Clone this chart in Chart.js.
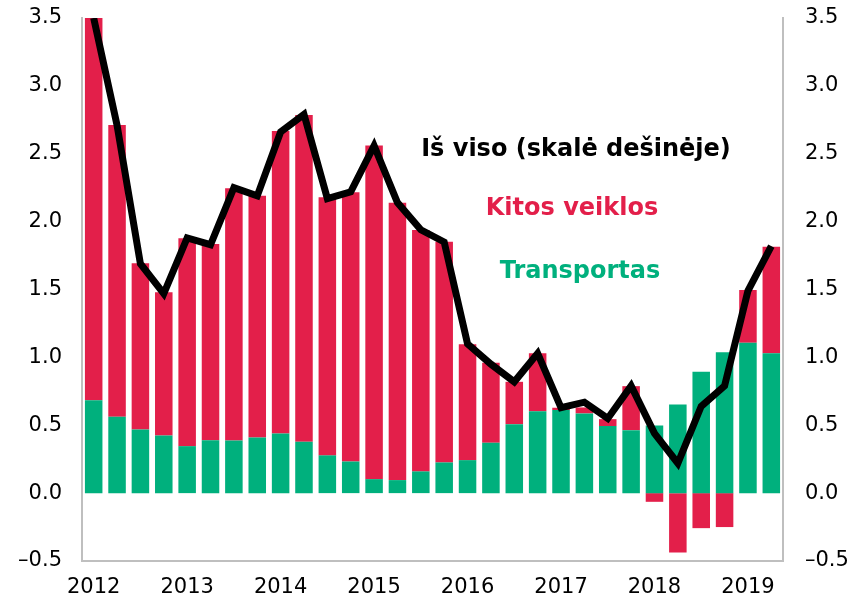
<!DOCTYPE html>
<html>
<head>
<meta charset="utf-8">
<script src="https://cdn.jsdelivr.net/npm/chart.js@4"></script>
<style>
  html, body { margin: 0; padding: 0; background: #fff; }
  #wrap { width: 853px; height: 599px; }
</style>
</head>
<body>
<div id="wrap"><canvas id="chart" width="853" height="599"></canvas></div>
<script>
// quarters 2012 Q1 .. 2019 Q2, year label on each Q1
const quarters = [
    '2012', '', '', '', '2013', '', '', '', '2014', '', '', '', '2015', '', '', '',
    '2016', '', '', '', '2017', '', '', '', '2018', '', '', '', '2019', ''
];
const transportas = [
    0.685, 0.562, 0.469, 0.425, 0.346, 0.390, 0.388, 0.410, 0.440, 0.378,
    0.278, 0.233, 0.103, 0.096, 0.160, 0.226, 0.243, 0.371, 0.508, 0.604,
    0.612, 0.587, 0.494, 0.464, 0.499, 0.653, 0.894, 1.037, 1.108, 1.030
];
const kitosVeiklos = [
    2.815, 2.150, 1.224, 1.054, 1.531, 1.445, 1.857, 1.780, 2.228, 2.408,
    1.901, 1.983, 2.457, 2.043, 1.778, 1.626, 0.853, 0.589, 0.312, 0.426,
    0.017, 0.044, 0.051, 0.324, -0.064, -0.437, -0.258, -0.250, 0.388, 0.785
];
const isViso = [
    3.50, 2.71, 1.69, 1.47, 1.88, 1.83, 2.25, 2.19, 2.66, 2.79,
    2.17, 2.22, 2.56, 2.14, 1.94, 1.85, 1.10, 0.95, 0.82, 1.03,
    0.63, 0.67, 0.55, 0.79, 0.44, 0.22, 0.64, 0.79, 1.49, 1.82
];

const RED = '#e31f4a';
const GREEN = '#00b07d';
const AXIS = '#bfbfbf';
const FONT = 'DejaVu Sans, Verdana, sans-serif';

function fmt(v) {
    return (v < 0 ? '\u2013' : '') + Math.abs(v).toFixed(1);
}

// fixed sizes for the value axes, no extra room for the end labels
function fitY(width) {
    return (scale) => {
        scale.width = width;
        scale.paddingTop = 0;
        scale.paddingBottom = 0;
    };
}

// series names written inside the plot instead of a legend box
const seriesLabels = {
    id: 'seriesLabels',
    afterDatasetsDraw(chart) {
        const ctx = chart.ctx;
        ctx.save();
        ctx.font = 'bold 24px ' + FONT;
        ctx.textAlign = 'center';
        ctx.textBaseline = 'alphabetic';
        ctx.fillStyle = '#000';
        ctx.fillText('Iš viso (skalė dešinėje)', 576, 156);
        ctx.fillStyle = RED;
        ctx.fillText('Kitos veiklos', 572, 215);
        ctx.fillStyle = GREEN;
        ctx.fillText('Transportas', 580, 278);
        ctx.restore();
    }
};

const ctx = document.getElementById('chart').getContext('2d');
new Chart(ctx, {
    data: {
        labels: quarters,
        datasets: [
            {
                type: 'line',
                label: 'Iš viso (skalė dešinėje)',
                data: isViso,
                yAxisID: 'y2',
                borderColor: '#000',
                borderWidth: 7,
                pointRadius: 0,
                tension: 0,
                order: 0
            },
            {
                type: 'bar',
                label: 'Transportas',
                data: transportas,
                backgroundColor: GREEN,
                stack: 's',
                order: 1
            },
            {
                type: 'bar',
                label: 'Kitos veiklos',
                data: kitosVeiklos,
                backgroundColor: RED,
                stack: 's',
                order: 1
            }
        ]
    },
    options: {
        responsive: false,
        animation: false,
        layout: { padding: { top: 18, left: 0, right: 0, bottom: 0 } },
        datasets: {
            bar: { barPercentage: 0.75, categoryPercentage: 1.0 }
        },
        plugins: {
            legend: { display: false },
            tooltip: { enabled: false }
        },
        scales: {
            x: {
                stacked: true,
                grid: { display: false, drawTicks: false },
                border: { display: true, color: AXIS, width: 2 },
                ticks: {
                    autoSkip: false,
                    maxRotation: 0,
                    padding: 14,
                    color: '#000',
                    font: { family: FONT, size: 21 }
                },
                afterFit(scale) {
                    scale.height = 38;
                    scale.paddingLeft = 0;
                    scale.paddingRight = 0;
                }
            },
            y: {
                stacked: true,
                position: 'left',
                min: -0.5,
                max: 3.5,
                grid: { display: false, drawTicks: false },
                border: { display: true, color: AXIS, width: 2 },
                ticks: {
                    stepSize: 0.5,
                    padding: 20,
                    color: '#000',
                    font: { family: FONT, size: 21 },
                    callback: fmt
                },
                afterFit: fitY(82)
            },
            y2: {
                position: 'right',
                min: -0.5,
                max: 3.5,
                grid: { display: false, drawTicks: false },
                border: { display: true, color: AXIS, width: 2 },
                ticks: {
                    stepSize: 0.5,
                    padding: 22,
                    color: '#000',
                    font: { family: FONT, size: 21 },
                    callback: fmt
                },
                afterFit: fitY(70)
            }
        }
    },
    plugins: [seriesLabels]
});
</script>
</body>
</html>
